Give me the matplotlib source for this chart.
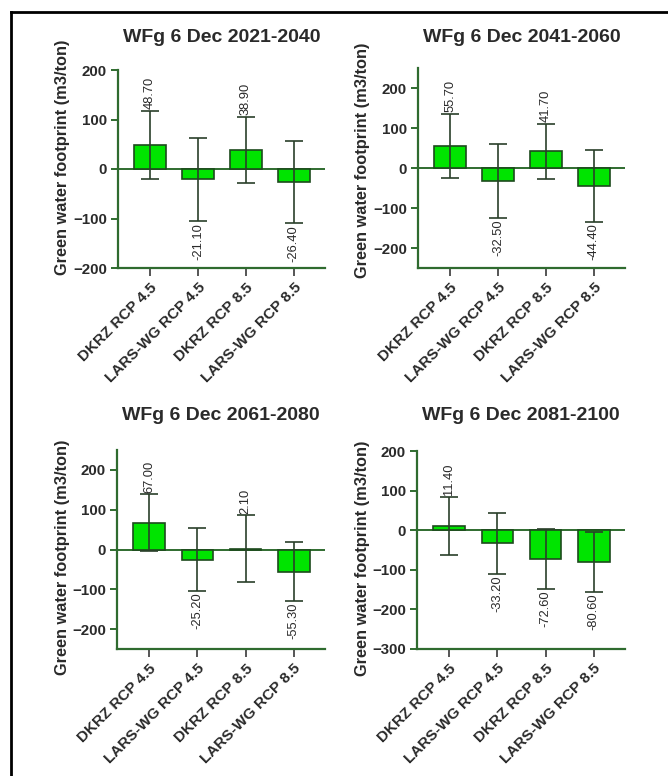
import matplotlib.pyplot as plt
import numpy as np

plt.rcParams['font.family'] = ['Liberation Sans', 'DejaVu Sans']

categories = ['DKRZ RCP 4.5', 'LARS-WG RCP 4.5', 'DKRZ RCP 8.5', 'LARS-WG RCP 8.5']
titles = ['WFg 6 Dec 2021-2040', 'WFg 6 Dec 2041-2060',
          'WFg 6 Dec 2061-2080', 'WFg 6 Dec 2081-2100']

mean_2021 = [48.70, -21.10, 38.90, -26.40]
sd_2021 = [69, 84, 67, 83]
mean_2041 = [55.70, -32.50, 41.70, -44.40]
sd_2041 = [80, 92, 69, 90]
mean_2061 = [67.00, -25.20, 2.10, -55.30]
sd_2061 = [72, 78, 84, 74]
mean_2081 = [11.40, -33.20, -72.60, -80.60]
sd_2081 = [73, 77, 75, 76]

means = [mean_2021, mean_2041, mean_2061, mean_2081]
sds = [sd_2021, sd_2041, sd_2061, sd_2081]
ylims = [(-200, 200), (-250, 250), (-250, 250), (-300, 200)]
yticks = [[-200, -100, 0, 100, 200], [-200, -100, 0, 100, 200],
          [-200, -100, 0, 100, 200], [-300, -200, -100, 0, 100, 200]]

W, H = 668, 776
# axes boxes in pixels: left, right, top, bottom
boxes = [(118, 325, 70, 268), (418, 625, 68, 268),
         (117, 325, 450, 649), (417, 625, 451, 649)]
# title centre y and y-label centre (x, y) in pixels
title_y = [38, 38, 416, 416]
ylabel_pos = [(62, 157), (363, 160), (62, 557), (363, 558)]

axis_color = '#2f6b2f'
bar_color = '#00e400'
edge_color = '#1d4a1d'
text_color = '#2a2a2a'

fig = plt.figure(figsize=(W / 100, H / 100), dpi=100)

for i in range(4):
    l, r, t, b = boxes[i]
    ax = fig.add_axes([l / W, 1 - b / H, (r - l) / W, (b - t) / H])
    x = np.arange(len(categories))
    m = np.array(means[i])
    s = np.array(sds[i])
    ax.bar(x, m, width=0.66, color=bar_color, edgecolor=edge_color, linewidth=1.2, zorder=2)
    ax.errorbar(x, m, yerr=s, fmt='none', ecolor='#2a3f2a', elinewidth=1.2,
                capsize=6.5, capthick=1.2, zorder=3)
    ax.axhline(0, color=axis_color, linewidth=1.4, zorder=1)
    for xi, mi, si in zip(x, m, s):
        if mi >= 0:
            ax.text(xi, mi + si + 4, f'{mi:.2f}', rotation=90, ha='center', va='bottom',
                    fontsize=9.3, color=text_color, zorder=4)
        else:
            ax.text(xi, mi - si - 4, f'{mi:.2f}', rotation=90, ha='center', va='top',
                    fontsize=9.3, color=text_color, zorder=4)
    ax.set_xlim(-0.67, 3.65)
    ax.set_ylim(*ylims[i])
    ax.set_yticks(yticks[i])
    ax.set_xticks(x)
    ax.set_xticklabels(categories, rotation=45, ha='right', rotation_mode='anchor',
                       fontsize=11, fontweight='bold', color=text_color)
    for lab in ax.get_yticklabels():
        lab.set_fontweight('bold')
        lab.set_fontsize(10.8)
        lab.set_color(text_color)
    ax.tick_params(axis='both', color=axis_color, width=1.4, length=5, pad=3)
    ax.tick_params(axis='x', color='#555555', length=6)
    for side in ['top', 'right']:
        ax.spines[side].set_visible(False)
    for side in ['left', 'bottom']:
        ax.spines[side].set_color(axis_color)
        ax.spines[side].set_linewidth(1.6)
    fig.text((l + r) / 2 / W, 1 - title_y[i] / H, titles[i], ha='center', va='center',
             fontsize=14, fontweight='bold', color=text_color)
    lx, ly = ylabel_pos[i]
    fig.text(lx / W, 1 - ly / H, 'Green water footprint (m3/ton)', rotation=90,
             ha='center', va='center', fontsize=11.8, fontweight='bold', color=text_color)

# partial frame around the figure
fig.add_artist(plt.Line2D([11 / W, 1], [1 - 12 / H, 1 - 12 / H], color='black', linewidth=2))
fig.add_artist(plt.Line2D([11 / W, 11 / W], [0, 1 - 12 / H], color='black', linewidth=2))

plt.savefig('out.png', dpi=100)
